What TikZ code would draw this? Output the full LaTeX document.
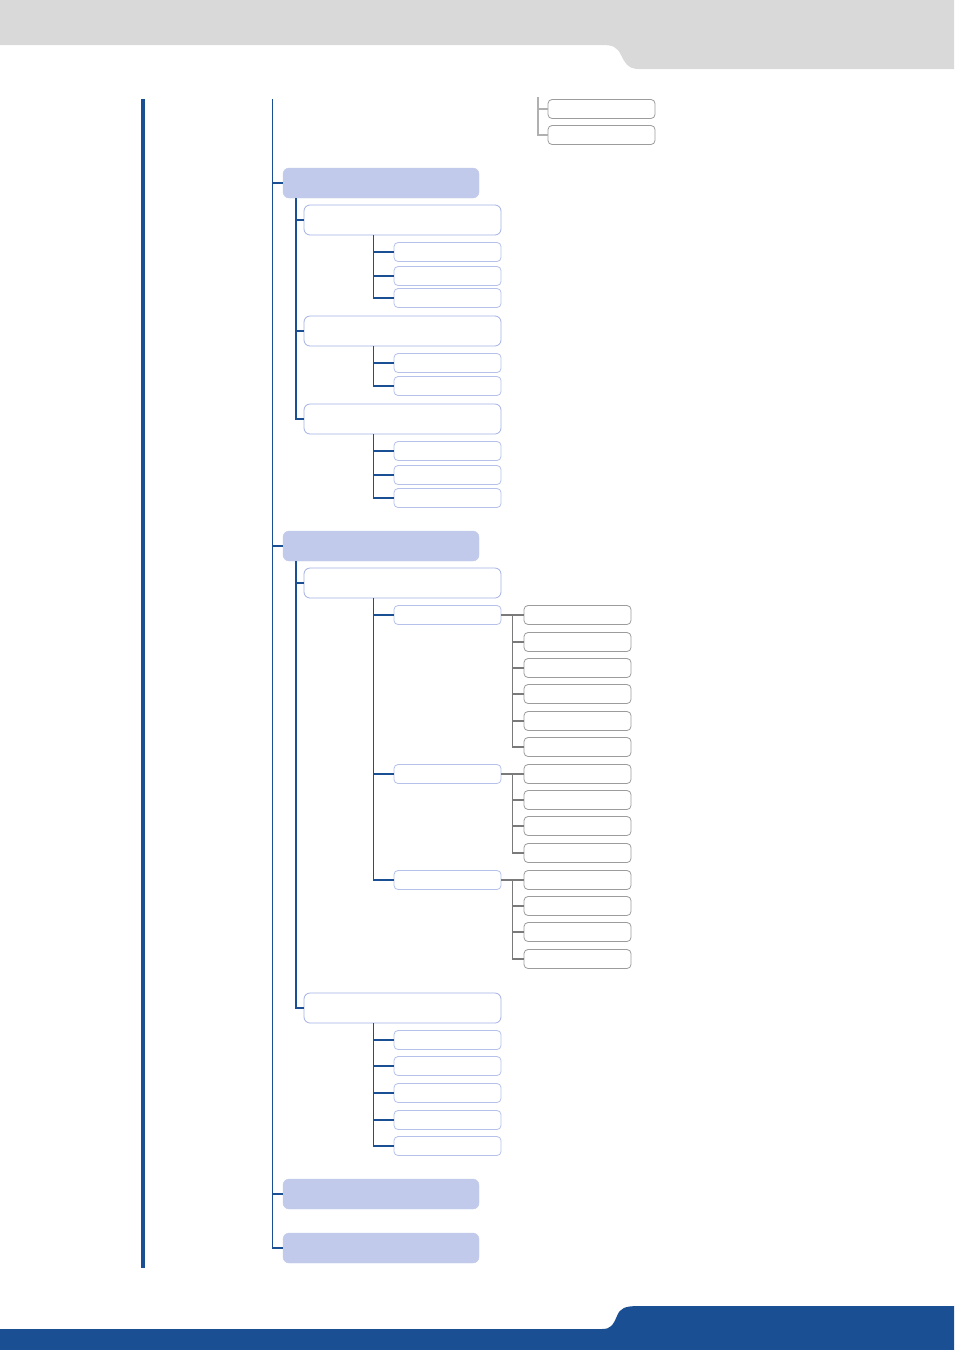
\documentclass[tikz,border=0pt]{standalone}
\usetikzlibrary{calc}
\definecolor{bluebar}{HTML}{1A4F93}
\definecolor{lvone}{HTML}{C2CAEB}
\definecolor{lvedge}{HTML}{A3B1E6}
\definecolor{grayedge}{HTML}{9C9C9C}
\definecolor{grayline}{HTML}{7A7A7A}
\definecolor{headergray}{HTML}{D9D9D9}
\begin{document}
\begin{tikzpicture}[x=1pt,y=-1pt,
  lone/.style={fill=lvone, draw=lvone, rounded corners=6pt, minimum width=196pt, minimum height=30pt, inner sep=0pt},
  ltwo/.style={fill=white, draw=lvedge, line width=0.8pt, rounded corners=6pt, minimum width=197pt, minimum height=30pt, inner sep=0pt},
  lthree/.style={fill=white, draw=lvedge!80!white, line width=0.8pt, rounded corners=4pt, minimum width=107pt, minimum height=19pt, inner sep=0pt},
  lfour/.style={fill=white, draw=grayedge, line width=0.8pt, rounded corners=4pt, minimum width=107pt, minimum height=19pt, inner sep=0pt},
  bcon/.style={draw=bluebar, line width=1.6pt},
  gcon/.style={draw=grayline, line width=1.3pt},
  tcon/.style={draw=grayedge!80!white, line width=1.3pt}]
\useasboundingbox (0,0) rectangle (954,1350);
% header and footer
\fill[headergray] (0,0) -- (954,0) -- (954,69) -- (639,69) .. controls (628,69) and (625,63) .. (621,55) .. controls (617,47) and (613,45) .. (602,45) -- (0,45) -- cycle;
\fill[bluebar] (0,1350) -- (0,1329) -- (602,1329) .. controls (611,1329) and (613,1325) .. (617,1316) .. controls (620,1308) and (625,1306) .. (639,1306) -- (954,1306) -- (954,1350) -- cycle;
% left thick bar
\fill[bluebar] (141,99) rectangle (145,1268);
% top gray boxes
\node[lfour] (ta) at (601.5,109) {};
\node[lfour] (tb) at (601.5,135) {};
\coordinate (ttop) at (538,97);
\draw[tcon] (ttop) |- (tb.west);
\draw[tcon] (ta.west) -- (ta.west -| ttop);
% level 1
\coordinate (trunk) at (272.5,99);
\node[lone] (A) at (381,183) {};
\node[lone] (B) at (381,546) {};
\node[lone] (C) at (381,1194) {};
\node[lone] (D) at (381,1248) {};
\draw[bcon] (trunk) |- (D.west);
\foreach \n in {A,B,C} \draw[bcon] (\n.west) -- (\n.west -| trunk);
% level 2 under A
\node[ltwo] (A1) at (402.5,220) {};
\node[ltwo] (A2) at (402.5,331) {};
\node[ltwo] (A3) at (402.5,419) {};
\coordinate (Av) at ($(A.south west)+(13,0)$);
\draw[bcon] (Av) |- (A3.west);
\foreach \n in {A1,A2} \draw[bcon] (\n.west) -- (\n.west -| Av);
% level 2 under B
\node[ltwo] (B1) at (402.5,583) {};
\node[ltwo] (B2) at (402.5,1008) {};
\coordinate (Bv) at ($(B.south west)+(13,0)$);
\draw[bcon] (Bv) |- (B2.west);
\draw[bcon] (B1.west) -- (B1.west -| Bv);
% level 3 groups
\foreach \p/\ys in {A1/{252,276,298}, A2/{363,386}, A3/{451,475,498}, B1/{615,774,880}, B2/{1040,1066,1093,1120,1146}}{
  \coordinate (\p v) at ($(\p.south west)+(70,0)$);
  \foreach \y [count=\i] in \ys {
    \node[lthree] (\p-\i) at (447.5,\y) {};
    \draw[bcon] (\p-\i.west) -- (\p-\i.west -| \p v);
  }
}
\draw[bcon] (A1v) |- (A1-3.west);
\draw[bcon] (A2v) |- (A2-2.west);
\draw[bcon] (A3v) |- (A3-3.west);
\draw[bcon] (B1v) |- (B1-3.west);
\draw[bcon] (B2v) |- (B2-5.west);
% level 4 groups
\foreach \p/\ys/\last in {B1-1/{615,642,668,694,721,747}/6, B1-2/{774,800,826,853}/4, B1-3/{880,906,932,959}/4}{
  \coordinate (\p v) at ($(\p.east)+(11,0)$);
  \foreach \y [count=\i] in \ys {
    \node[lfour] (\p-\i) at (577.5,\y) {};
    \draw[gcon] (\p-\i.west) -- (\p-\i.west -| \p v);
  }
  \draw[gcon] (\p.east) -- (\p v) |- (\p-\last.west);
}
\end{tikzpicture}
\end{document}
